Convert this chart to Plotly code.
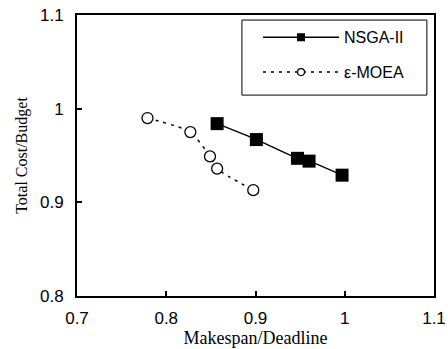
import plotly.graph_objects as go

# Normalised makespan / cost values for the two optimisers
nsga_makespan = [0.857, 0.901, 0.947, 0.960, 0.997]
nsga_cost = [0.984, 0.967, 0.947, 0.944, 0.929]

emoea_makespan = [0.779, 0.827, 0.849, 0.857, 0.8975]
emoea_cost = [0.990, 0.975, 0.949, 0.936, 0.913]

x_ticks = [0.7, 0.8, 0.9, 1.0, 1.1]
x_tick_text = ["0.7", "0.8", "0.9", "1", "1.1"]
y_ticks = [0.8, 0.9, 1.0, 1.1]
y_tick_text = ["0.8", "0.9", "1", "1.1"]

SANS = "Liberation Sans, Arial"
SERIF = "Liberation Serif, Times New Roman"

nsga_line = dict(color="black", width=1.5, shape="spline", smoothing=0.6)
emoea_line = dict(color="black", width=1.5, dash="3px,5px", shape="spline", smoothing=0.6)

fig = go.Figure()

# Data series (legend entries drawn separately with smaller symbols)
fig.add_trace(go.Scatter(
    x=emoea_makespan, y=emoea_cost, name="ε-MOEA",
    mode="lines+markers", showlegend=False, line=emoea_line,
    marker=dict(symbol="circle", size=11, color="white",
                line=dict(color="black", width=1.3)),
))
fig.add_trace(go.Scatter(
    x=nsga_makespan, y=nsga_cost, name="NSGA-II",
    mode="lines+markers", showlegend=False, line=nsga_line,
    marker=dict(symbol="square", size=13, color="black"),
))

# Legend keys
fig.add_trace(go.Scatter(
    x=[None], y=[None], name="NSGA-II", mode="lines+markers",
    legendgroup="a", legendrank=1, line=nsga_line,
    marker=dict(symbol="square", size=8, color="black"),
))
fig.add_trace(go.Scatter(
    x=[None], y=[None], name="ε-MOEA", mode="lines+markers",
    legendgroup="b", legendrank=2, line=emoea_line,
    marker=dict(symbol="circle", size=7, color="white",
                line=dict(color="black", width=1.2)),
))

axis_common = dict(
    showgrid=False, zeroline=False, showline=True, linecolor="black",
    linewidth=2, mirror=True, ticks="inside", ticklen=5, tickwidth=1.5,
    tickcolor="black", tickfont=dict(family=SANS, size=17, color="black"),
    automargin=False,
)

fig.update_xaxes(
    range=[0.7, 1.1], tickvals=x_ticks, ticktext=x_tick_text,
    ticklabelstandoff=6,
    title=dict(text="Makespan/Deadline", standoff=0,
               font=dict(family=SERIF, size=18, color="black")),
    **axis_common,
)
fig.update_yaxes(
    range=[0.8, 1.1], tickvals=y_ticks, ticktext=y_tick_text,
    ticklabelstandoff=8,
    title=dict(text="Total Cost/Budget", standoff=8,
               font=dict(family=SERIF, size=16, color="black")),
    **axis_common,
)

# Legend frame
fig.add_shape(type="rect", xref="paper", yref="paper",
              x0=0.462, x1=0.980, y0=0.715, y1=0.982,
              line=dict(color="black", width=1), fillcolor="white", layer="below")

fig.update_layout(
    width=448, height=349,
    margin=dict(l=77, r=14, t=15, b=53),
    paper_bgcolor="white", plot_bgcolor="white",
    showlegend=True,
    legend=dict(
        x=0.507, y=0.981, xanchor="left", yanchor="top",
        bgcolor="rgba(0,0,0,0)", borderwidth=0,
        itemwidth=76, traceorder="grouped", tracegroupgap=11,
        font=dict(family=SANS, size=16, color="black"),
    ),
)

fig.write_html("out.html")
